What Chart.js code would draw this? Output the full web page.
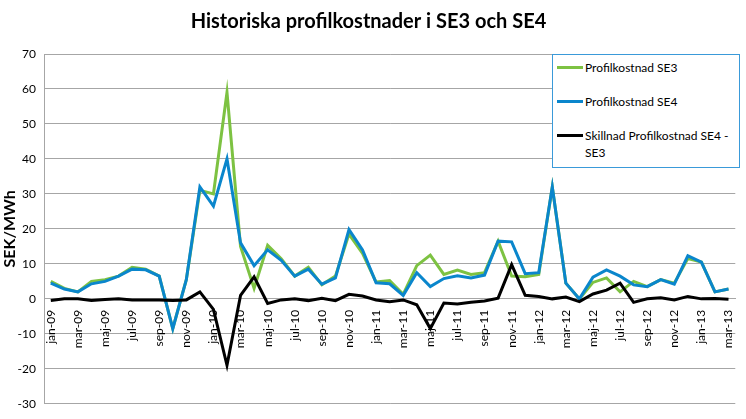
<!DOCTYPE html>
<html>
<head>
<meta charset="utf-8">
<script src="https://cdn.jsdelivr.net/npm/chart.js@4/dist/chart.umd.min.js"></script>
<style>
  body { margin: 0; background: #fff; font-family: Lato, "Open Sans", sans-serif; }
  #wrap { position: relative; width: 746px; height: 419px; }
  #legend { position: absolute; left: 552px; top: 54px; width: 186px; height: 112px; border: 1px solid #3a9ad9; background: #fff; font-size: 12px; color: #000; }
  .item { position: absolute; left: 4px; display: flex; }
  .swatch { width: 26px; height: 3px; margin-top: 7px; margin-right: 2px; flex: none; }
</style>
</head>
<body>
<div id="wrap">
  <canvas id="chart" width="746" height="419"></canvas>
  <div id="legend"></div>
</div>
<script>
const months = ['jan','feb','mar','apr','maj','jun','jul','aug','sep','okt','nov','dec'];
const labels = [];
for (let y = 9; y <= 13; y++) {
  for (let m = 0; m < 12; m++) {
    if (y === 13 && m > 2) break;
    labels.push(months[m] + '-' + String(y).padStart(2, '0'));
  }
}

const se3 = [5, 3, 2, 5, 5.5, 6.5, 9, 8.5, 6.5, -8.5, 5.5, 31, 30, 59, 15, 3, 15.3, 11.5, 6.5, 9, 4, 6.5, 18.5, 13,
  4.8, 5.2, 1.3, 9.5, 12.5, 7, 8.2, 7, 7.5, 16.5, 6.5, 6.3, 7, 32, 4.5, 0, 4.7, 6, 2, 5, 3.5, 5.5, 4.5, 11.5, 10.5, 2, 2.8];
const se4 = [4.5, 2.8, 2, 4.3, 5, 6.5, 8.5, 8.3, 6.5, -8.5, 5.5, 32, 26.5, 40, 16, 9.5, 14, 11, 6.5, 8.5, 4.2, 6, 19.8, 14,
  4.6, 4.3, 1, 7.5, 3.5, 5.8, 6.6, 6, 6.8, 16.5, 16.3, 7.2, 7.5, 32, 4.5, 0, 6.2, 8.3, 6.5, 4, 3.5, 5.5, 4.2, 12.3, 10.5, 2, 2.8];
const diff = [-0.5, 0, 0, -0.5, -0.2, 0, -0.3, -0.3, -0.3, -0.5, -0.3, 2, -3, -19, 1, 6.3, -1.3, -0.3, 0, -0.5, 0.2, -0.5, 1.3, 0.8,
  -0.3, -0.8, -0.3, -1.7, -8.5, -1.2, -1.5, -1, -0.6, 0.2, 9.8, 1, 0.7, 0, 0.5, -0.8, 1.4, 2.5, 4.5, -1, 0, 0.3, -0.3, 0.7, 0, 0.1, -0.1];

const series = [
  { label: 'Profilkostnad SE3', data: se3, color: '#7dc242', order: 3 },
  { label: 'Profilkostnad SE4', data: se4, color: '#0a86cc', order: 2 },
  { label: 'Skillnad Profilkostnad SE4 - SE3', data: diff, color: '#000000', order: 1 }
];

new Chart(document.getElementById('chart'), {
  type: 'line',
  data: {
    labels: labels,
    datasets: series.map(s => ({
      label: s.label, data: s.data, borderColor: s.color, backgroundColor: s.color, order: s.order,
      borderWidth: 3, pointRadius: 0, tension: 0, fill: false
    }))
  },
  options: {
    responsive: false,
    animation: false,
    layout: { padding: { top: 10, right: 9, bottom: 10 } },
    plugins: {
      legend: { display: false },
      tooltip: { enabled: false },
      title: { display: true, text: 'Historiska profilkostnader i SE3 och SE4', color: '#000',
        font: { family: 'Lato', size: 20, weight: 'bold' }, padding: { top: 0, bottom: 20 } }
    },
    scales: {
      y: {
        min: -30, max: 70,
        ticks: { stepSize: 10, color: '#000', font: { family: 'Lato', size: 12 }, padding: 8 },
        grid: { color: '#a6a6a6', drawTicks: false, lineWidth: 1 },
        border: { color: '#a6a6a6' },
        title: { display: true, text: 'SEK/MWh', color: '#000', font: { family: 'Lato', size: 16, weight: 'bold' }, padding: 0 },
        afterFit: s => { s.width = 44; }
      },
      x: {
        position: { y: 0 },
        offset: true,
        grid: { display: false },
        border: { color: '#a6a6a6' },
        ticks: {
          autoSkip: false, maxRotation: 90, minRotation: 90, color: '#000',
          font: { family: 'Lato', size: 12 },
          callback: (v, i) => i % 2 === 0 ? labels[i] : ''
        }
      }
    }
  }
});

const legend = document.getElementById('legend');
const tops = [4, 38, 72];
series.forEach((s, i) => {
  const el = document.createElement('div');
  el.className = 'item';
  el.style.top = tops[i] + 'px';
  el.innerHTML = '<div class="swatch" style="background:' + s.color + '"></div><div>' +
    s.label.replace('SE4 - SE3', 'SE4 -<br>SE3') + '</div>';
  el.lastChild.style.lineHeight = '17px';
  el.lastChild.style.whiteSpace = 'nowrap';
  legend.appendChild(el);
});
</script>
</body>
</html>
